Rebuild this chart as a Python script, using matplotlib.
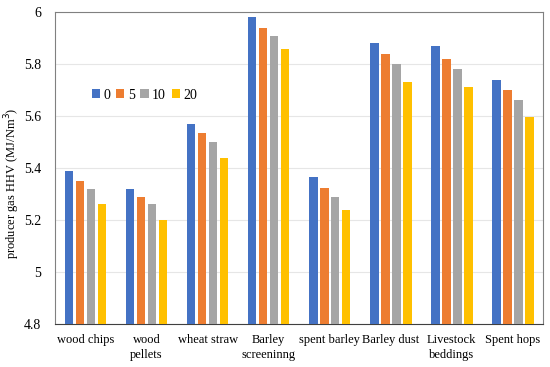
import numpy as np
import matplotlib
matplotlib.use('Agg')
import matplotlib.pyplot as plt

plt.rcParams['font.family'] = ['Liberation Serif', 'DejaVu Serif']

categories = ['wood chips', 'wood\npellets', 'wheat straw', 'Barley\nscreeninng',
              'spent barley', 'Barley dust', 'Livestock\nbeddings', 'Spent hops']
series_labels = ['0', '5', '10', '20']
hhv_0 = [5.39, 5.32, 5.57, 5.98, 5.365, 5.88, 5.87, 5.74]
hhv_5 = [5.35, 5.29, 5.535, 5.94, 5.325, 5.84, 5.82, 5.70]
hhv_10 = [5.32, 5.26, 5.50, 5.91, 5.29, 5.80, 5.78, 5.66]
hhv_20 = [5.26, 5.20, 5.44, 5.86, 5.24, 5.73, 5.71, 5.595]
colors = ['#4472C4', '#ED7D31', '#A5A5A5', '#FFC000']

fig = plt.figure(figsize=(5.5, 3.67), dpi=100)
ax = fig.add_axes([0.1, 0.117, 0.888, 0.85])

x = np.arange(len(categories))
w = 0.14
step = 0.18
for i, vals in enumerate([hhv_0, hhv_5, hhv_10, hhv_20]):
    ax.bar(x + (i - 1.5) * step, np.array(vals) - 4.8, width=w, bottom=4.8,
           color=colors[i], label=series_labels[i], zorder=3)

ax.set_xlim(-0.5, len(categories) - 0.5)
ax.set_ylim(4.8, 6.0)
ax.set_yticks([4.8, 5.0, 5.2, 5.4, 5.6, 5.8, 6.0])
ax.set_yticklabels(['4.8', '5', '5.2', '5.4', '5.6', '5.8', '6'])
ax.set_xticks(x)
ax.set_xticklabels(categories, fontsize=9, linespacing=1.4)
ax.tick_params(axis='y', labelsize=10, length=0, pad=10)
ax.tick_params(axis='x', length=0, pad=7)
ax.yaxis.grid(True, color='#E6E6E6', linewidth=0.8, zorder=0)
for s in ax.spines.values():
    s.set_color('#808080')
    s.set_linewidth(0.8)
ax.spines['bottom'].set_color('#404040')
ax.set_ylabel('producer gas HHV (MJ/Nm$^3$)', fontsize=9)
ax.yaxis.set_label_coords(-0.068, 0.45)

ax.legend(loc='upper left', bbox_to_anchor=(0.05, 0.795), ncol=4, frameon=False,
          fontsize=10, handlelength=0.6, handleheight=0.6, handletextpad=0.25,
          columnspacing=0.4)

fig.savefig('out.png', dpi=100)
